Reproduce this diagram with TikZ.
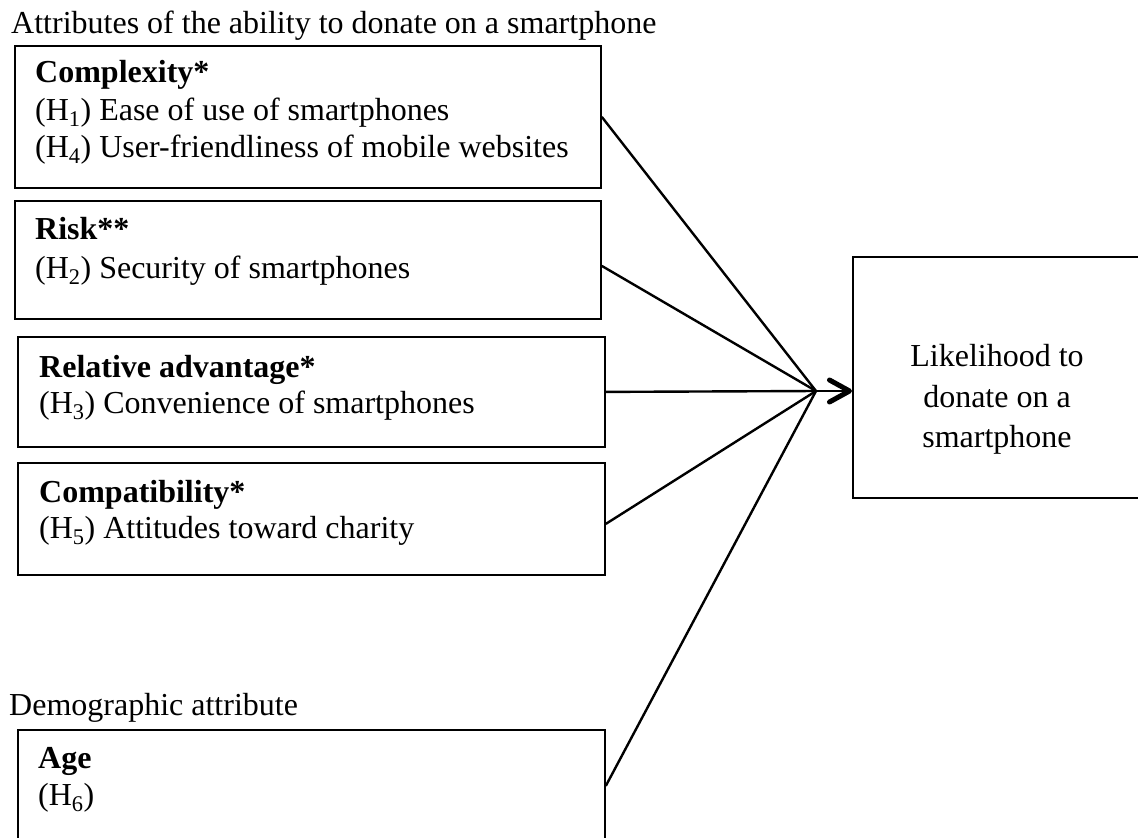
\documentclass[tikz,border=0pt]{standalone}
\usepackage{fontspec}
\setmainfont{Liberation Serif}
\usetikzlibrary{arrows.meta}
\begin{document}
\begin{tikzpicture}[x=1pt,y=-1pt,
  box/.style={draw, line width=1.8pt, rectangle, inner sep=0pt, anchor=north west},
  txt/.style={anchor=base west, inner sep=0pt, font=\fontsize{32}{38}\selectfont},
  ctxt/.style={anchor=base, inner sep=0pt, font=\fontsize{32}{38}\selectfont},
  link/.style={line width=2.4pt},
]
\useasboundingbox (0,0) rectangle (1138,838);
\clip (0,0) rectangle (1138,838);

% group headings
\node[txt] (head1) at (11,33) {Attributes of the ability to donate on a smartphone};
\node[txt] (head2) at (9,715) {Demographic attribute};

% predictor boxes
\node[box, minimum width=586, minimum height=142] (cpx) at (14,45) {};
\node[txt] (cpx1) at (35,82) {\textbf{Complexity*}};
\node[txt] (cpx2) at (35,120) {(H\textsubscript{1}) Ease of use of smartphones};
\node[txt] (cpx3) at (35,157) {(H\textsubscript{4}) User-friendliness of mobile websites};

\node[box, minimum width=586, minimum height=118] (risk) at (14,200) {};
\node[txt] (risk1) at (35,239) {\textbf{Risk**}};
\node[txt] (risk2) at (35,278) {(H\textsubscript{2}) Security of smartphones};

\node[box, minimum width=587, minimum height=110] (rel) at (17,336) {};
\node[txt] (rel1) at (39,377) {\textbf{Relative advantage*}};
\node[txt] (rel2) at (39,413) {(H\textsubscript{3}) Convenience of smartphones};

\node[box, minimum width=587, minimum height=112] (cmp) at (17,462) {};
\node[txt] (cmp1) at (39,502) {\textbf{Compatibility*}};
\node[txt] (cmp2) at (39,538) {(H\textsubscript{5}) Attitudes toward charity};

\node[box, minimum width=587, minimum height=112] (age) at (17,729) {};
\node[txt] (age1) at (38,768) {\textbf{Age}};
\node[txt] (age2) at (38,805) {(H\textsubscript{6})};

% outcome box
\node[box, minimum width=290, minimum height=241] (out) at (852,256) {};
\node[ctxt] (out1) at (997,366) {Likelihood to};
\node[ctxt] (out2) at (997,407) {donate on a};
\node[ctxt] (out3) at (997,447) {smartphone};

% converging paths
\coordinate (hub) at (816,391);
\draw[link] (cpx.east) -- (hub);
\draw[link] ([yshift=-6pt]risk.east) -- (hub);
\draw[link] (rel.east) -- (hub);
\draw[link] ([yshift=-5pt]cmp.east) -- (hub);
\draw[link] (age.east) -- (hub);
\draw[link, -{Straight Barb[length=20pt,width=22pt,line width=5pt,round]}] (hub) -- (out.west |- hub);
\end{tikzpicture}
\end{document}
